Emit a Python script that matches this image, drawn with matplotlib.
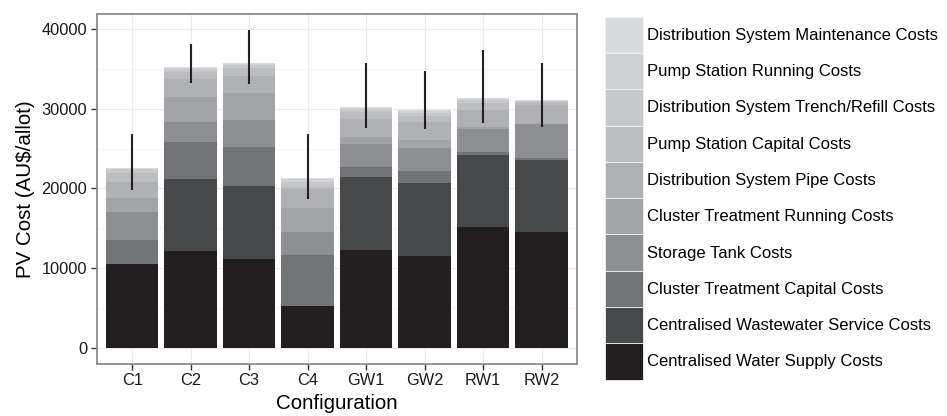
import matplotlib
matplotlib.use("Agg")
import matplotlib.pyplot as plt
from matplotlib.patches import Patch
import numpy as np

plt.rcParams['font.family'] = ['Liberation Sans', 'DejaVu Sans']

categories = ['C1', 'C2', 'C3', 'C4', 'GW1', 'GW2', 'RW1', 'RW2']

# stacked components (bottom to top)
water_supply = [10450, 12130, 11080, 5200, 12250, 11460, 15110, 14480]
wastewater = [0, 9030, 9190, 0, 9160, 9190, 9070, 9030]
cluster_capital = [3030, 4660, 4910, 6390, 1260, 1510, 340, 330]
storage_tank = [3530, 2520, 3400, 2900, 2900, 2900, 2940, 4200]
cluster_running = [1760, 3150, 3400, 3020, 880, 1010, 250, 50]
pipe = [2050, 2270, 2180, 2430, 2270, 2270, 2140, 2420]
pump_capital = [1180, 840, 970, 250, 840, 790, 880, 340]
trench_refill = [380, 380, 340, 630, 380, 380, 380, 130]
pump_running = [80, 175, 140, 340, 120, 190, 140, 60]
maintenance = [85, 115, 110, 210, 130, 150, 110, 60]

err_low = [19860, 33290, 33160, 18730, 27540, 27490, 28250, 27670]
err_high = [26790, 38160, 39920, 26790, 35810, 34760, 37440, 35770]

series_names = [
    'Centralised Water Supply Costs',
    'Centralised Wastewater Service Costs',
    'Cluster Treatment Capital Costs',
    'Storage Tank Costs',
    'Cluster Treatment Running Costs',
    'Distribution System Pipe Costs',
    'Pump Station Capital Costs',
    'Distribution System Trench/Refill Costs',
    'Pump Station Running Costs',
    'Distribution System Maintenance Costs',
]
series_values = [water_supply, wastewater, cluster_capital, storage_tank,
                 cluster_running, pipe, pump_capital, trench_refill,
                 pump_running, maintenance]
colors = ['#231f20', '#47484a', '#727376', '#8e8f92', '#a3a4a7',
          '#b0b1b4', '#bcbdc0', '#c7c8ca', '#d0d1d3', '#d9dadc']

fig = plt.figure(figsize=(9.47, 4.16), dpi=100)
ax = fig.add_axes([97 / 947, 1 - 363.5 / 416, (576.7 - 97) / 947, (363.5 - 14) / 416])

x = np.arange(1, len(categories) + 1)
bottom = np.zeros(len(categories))
for vals, col in zip(series_values, colors):
    v = np.array(vals, dtype=float)
    ax.bar(x, v, bottom=bottom, width=0.9, color=col, linewidth=0, zorder=2)
    bottom += v

ax.vlines(x, err_low, err_high, color='#231f20', linewidth=1.5, zorder=3)

ax.set_xlim(0.4, 8.6)
ax.set_ylim(-1996, 41916)
ax.set_xticks(x)
ax.set_xticklabels(categories)
ax.set_yticks([0, 10000, 20000, 30000, 40000])
ax.set_yticks([5000, 15000, 25000, 35000], minor=True)
ax.grid(True, which='major', color='#ebebeb', linewidth=0.8, zorder=0)
ax.grid(True, which='minor', axis='y', color='#f6f6f6', linewidth=0.8, zorder=0)
ax.set_axisbelow(True)
ax.tick_params(axis='both', which='major', length=4, width=1, color='#333333',
               labelsize=11.8, labelcolor='#1a1a1a', pad=3)
ax.tick_params(axis='y', which='minor', length=0)
for s in ax.spines.values():
    s.set_color('#8c8c8c')
    s.set_linewidth(1.3)

ax.set_xlabel('Configuration', fontsize=14.8, labelpad=4)
ax.set_ylabel(r'PV Cost (AU\$/allot)', fontsize=14.8, labelpad=5)

handles = [Patch(facecolor=c, edgecolor='#f2f2f2', linewidth=0.6) for c in colors]
fs = 12
fs_px = fs * 100 / 72
key_h = 36.3 / fs_px
hh = (key_h - 0.245) / 0.65
fig.legend(handles[::-1], series_names[::-1], loc='upper left',
           bbox_to_anchor=(605 / 947, 1 - 16.7 / 416), frameon=False,
           fontsize=fs, borderpad=0, borderaxespad=0, labelspacing=0,
           handleheight=hh, handlelength=38.3 / fs_px,
           handletextpad=0.22)

fig.savefig('out.png', dpi=100)
